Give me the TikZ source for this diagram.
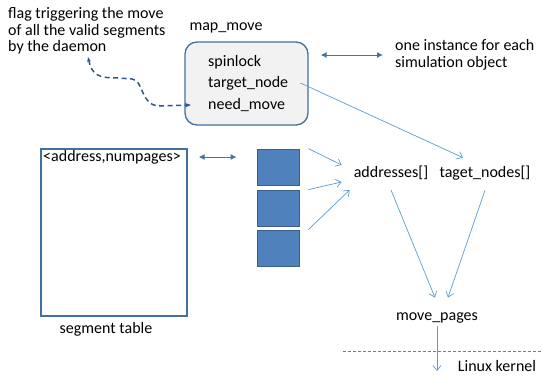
\documentclass[tikz,border=0pt]{standalone}
\usepackage{fontspec}
\setmainfont{Carlito}
\usetikzlibrary{arrows.meta}

\definecolor{boxline}{HTML}{41719C}
\definecolor{boxfill}{HTML}{F2F2F2}
\definecolor{sqfill}{HTML}{4F81BD}
\definecolor{sqline}{HTML}{3A5F8B}
\definecolor{arrblue}{HTML}{5B9BD5}
\definecolor{dashblue}{HTML}{2F5597}

\begin{document}
\begin{tikzpicture}[x=1pt,y=-1pt,
  every node/.style={font=\fontsize{16}{16.8}\selectfont, inner sep=2pt},
  lbl/.style={anchor=west, inner sep=0pt},
  thinarr/.style={arrblue, line width=0.7pt, -{Straight Barb[length=5pt,width=8pt]}},
  twoway/.style={arrblue!75!black, line width=0.9pt, {Latex[length=6pt,width=6pt]}-{Latex[length=6pt,width=6pt]}},
  segbox/.style={draw=sqline, fill=sqfill, line width=0.8pt, minimum width=42pt, minimum height=36pt, inner sep=0pt}]
\useasboundingbox (0,0) rectangle (542,378);

\node[align=left, anchor=north west, inner sep=0pt] (flag) at (8,7) {flag triggering the move\\of all the valid segments\\by the daemon};
\node (mmname) at (226,28) {map\_move};
\node[draw=boxline, fill=boxfill, line width=1.3pt, rounded corners=12pt, minimum width=123pt, minimum height=83pt] (mm) at (246.5,83.5) {};
\node[lbl] (spin) at (208,62) {spinlock};
\node[lbl] (tnode) at (208,83) {target\_node};
\node[lbl] (nmove) at (208,105) {need\_move};
\node[align=left, anchor=west, inner sep=0pt] (inst) at (395,55) {one instance for each\\simulation object};

\node[draw=boxline, line width=1.3pt, minimum width=146pt, minimum height=167pt] (segtab) at (114,232.5) {};
\node (hdr) at (112,157) {<address,numpages>};
\node (segname) at (106,329) {segment table};
\node[segbox] (sq1) at (278,167) {};
\node[segbox] (sq2) at (278,208) {};
\node[segbox] (sq3) at (278,248) {};

\node (addr) at (391,173) {addresses[]};
\node (tgt) at (485,173) {taget\_nodes[]};
\node (mp) at (437,318) {move\_pages};
\node (lk) at (497,366) {Linux kernel};
\coordinate (kern) at (437,371);
\coordinate (flagpt) at (88,57);
\coordinate (bl) at (343,351);
\coordinate (br) at (542,351);

\draw[dashblue, line width=1.5pt, dash pattern=on 5pt off 3.5pt, {Stealth[length=5pt]}-{Stealth[length=6pt]}] (flagpt) .. controls (92,75) and (98,78) .. (118,78) -- (132,79) .. controls (144,80) and (140,106) .. (160,106) -- ([xshift=-17pt]nmove.west);
\draw[twoway] ([xshift=12pt]mm.east |- inst.west) -- ([xshift=-12pt]inst.west);
\draw[twoway] ([xshift=11pt]segtab.east |- hdr.center) -- ([xshift=-20pt]sq1.west |- hdr.center);

\draw[thinarr] ([xshift=9pt]sq1.north east) -- ([xshift=-10pt,yshift=8pt]addr.west);
\draw[thinarr] ([xshift=9pt]sq2.north east) -- ([xshift=-10pt,yshift=-9pt]addr.west);
\draw[thinarr] ([xshift=9pt]sq3.north east) -- ([xshift=-2pt,yshift=-17pt]addr.west);
\draw[thinarr] ([xshift=12pt]tnode.east) -- ([xshift=-22pt,yshift=6pt]tgt.north);
\draw[thinarr] ([yshift=-8pt]addr.south) -- ([xshift=-2pt,yshift=13pt]mp.north);
\draw[thinarr] ([yshift=-8pt]tgt.south) -- ([xshift=11pt,yshift=13pt]mp.north);
\draw[thinarr] ([yshift=-1pt]mp.south) -- (kern);
\draw[arrblue!70!dashblue, line width=0.8pt, dash pattern=on 3pt off 2pt] (bl) -- (br);
\end{tikzpicture}
\end{document}
